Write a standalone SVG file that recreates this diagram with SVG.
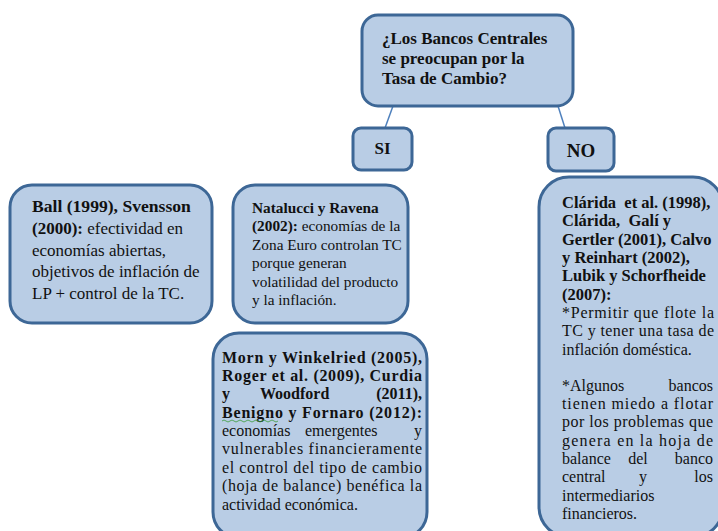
<svg xmlns="http://www.w3.org/2000/svg" width="718" height="531" viewBox="0 0 718 531">
<style>
.box{fill:#b9cde5;stroke:#3d6796;stroke-width:3}
.t{font-family:"Liberation Serif","Times New Roman",serif;font-size:16px;fill:#111;white-space:pre}
.l{font-size:17px}
.m{font-size:15.3px}
.b{font-weight:bold}
.rb{font-weight:bold;font-size:16.5px}
.h{font-family:"Liberation Serif","Times New Roman",serif;font-size:17px;font-weight:bold;fill:#111}
.c{stroke:#4f81bd;stroke-width:1.5;fill:none}
</style>
<rect width="718" height="531" fill="#fff"/>
<g id="connectors">
<line class="c" x1="393" y1="106" x2="385" y2="128"/>
<line class="c" x1="558" y1="106" x2="565" y2="128"/>
</g>
<g id="root">
<rect class="box" x="362" y="15" width="211" height="91" rx="16"/>
<text class="h" x="382" y="44">¿Los Bancos Centrales</text>
<text class="h" x="382" y="64">se preocupan por la</text>
<text class="h" x="382" y="84">Tasa de Cambio?</text>
</g>
<g id="si">
<rect class="box" x="353" y="128" width="59" height="42" rx="8"/>
<text class="h" x="382.5" y="154" text-anchor="middle">SI</text>
</g>
<g id="no">
<rect class="box" x="548" y="128" width="66" height="43" rx="8"/>
<text class="h" x="581" y="157" text-anchor="middle" style="font-size:19px">NO</text>
</g>
<g id="ball">
<rect class="box" x="10" y="185" width="202" height="138" rx="22"/>
<text class="t l" x="32" y="212"><tspan class="b" style="font-size:17.6px">Ball (1999), Svensson</tspan></text>
<text class="t l" x="32" y="234"><tspan class="b">(2000):</tspan> efectividad en</text>
<text class="t l" x="32" y="256">economías abiertas,</text>
<text class="t l" x="32" y="277">objetivos de inflación de</text>
<text class="t l" x="32" y="299">LP + control de la TC.</text>
</g>
<g id="natalucci">
<rect class="box" x="233" y="185" width="175" height="138" rx="22"/>
<text class="t m b" x="252" y="213">Natalucci y Ravena</text>
<text class="t m" x="252" y="231"><tspan class="b">(2002):</tspan> economías de la</text>
<text class="t m" x="252" y="250">Zona Euro controlan TC</text>
<text class="t m" x="252" y="268">porque generan</text>
<text class="t m" x="252" y="287">volatilidad del producto</text>
<text class="t m" x="252" y="305">y la inflación.</text>
</g>
<g id="morn">
<rect class="box" x="213" y="333" width="214" height="205" rx="26"/>
<text class="t b" x="222" y="363" textLength="200" lengthAdjust="spacing">Morn y Winkelried (2005),</text>
<text class="t b" x="222" y="381" textLength="200" lengthAdjust="spacing">Roger et al. (2009), Curdia</text>
<text class="t b" x="222" y="399">y</text>
<text class="t b" x="260" y="399">Woodford</text>
<text class="t b" x="422" y="399" text-anchor="end">(2011),</text>
<text class="t b" x="222" y="418" textLength="200" lengthAdjust="spacing">Benigno y Fornaro (2012):</text>
<path d="M222 421 q2 -2 4 0 t4 0 t4 0 t4 0 t4 0 t4 0 t4 0 t4 0 t4 0 t4 0 t4 0 t4 0 t4 0 t4 0" fill="none" stroke="#3a9a3a" stroke-width="0.8"/>
<text class="t" x="222" y="436">economías</text>
<text class="t" x="305" y="436">emergentes</text>
<text class="t" x="422" y="436" text-anchor="end">y</text>
<text class="t" x="222" y="454" textLength="200" lengthAdjust="spacing">vulnerables financieramente</text>
<text class="t" x="222" y="473" textLength="200" lengthAdjust="spacing">el control del tipo de cambio</text>
<text class="t" x="222" y="491" textLength="200" lengthAdjust="spacing">(hoja de balance) benéfica la</text>
<text class="t" x="222" y="510">actividad económica.</text>
</g>
<g id="clarida">
<rect class="box" x="539" y="177" width="184" height="360" rx="30"/>
<text class="t rb" x="562" y="208">Clárida  et al. (1998),</text>
<text class="t rb" x="562" y="226">Clárida,  Galí y</text>
<text class="t rb" x="562" y="245">Gertler (2001), Calvo</text>
<text class="t rb" x="562" y="263">y Reinhart (2002),</text>
<text class="t rb" x="562" y="281">Lubik y Schorfheide</text>
<text class="t rb" x="562" y="300">(2007):</text>
<text class="t" x="562" y="318" textLength="152" lengthAdjust="spacing">*Permitir que flote la</text>
<text class="t" x="562" y="336" textLength="152" lengthAdjust="spacing">TC y tener una tasa de</text>
<text class="t" x="562" y="355">inflación doméstica.</text>
<text class="t" x="562" y="391">*Algunos</text>
<text class="t" x="713" y="391" text-anchor="end">bancos</text>
<text class="t" x="562" y="409" textLength="151" lengthAdjust="spacing">tienen miedo a flotar</text>
<text class="t" x="562" y="427" textLength="151" lengthAdjust="spacing">por los problemas que</text>
<text class="t" x="562" y="446" textLength="151" lengthAdjust="spacing">genera en la hoja de</text>
<text class="t" x="562" y="464">balance</text>
<text class="t" x="638" y="464" text-anchor="middle">del</text>
<text class="t" x="713" y="464" text-anchor="end">banco</text>
<text class="t" x="562" y="482">central</text>
<text class="t" x="643" y="482" text-anchor="middle">y</text>
<text class="t" x="713" y="482" text-anchor="end">los</text>
<text class="t" x="562" y="501">intermediarios</text>
<text class="t" x="562" y="519">financieros.</text>
</g>
</svg>
